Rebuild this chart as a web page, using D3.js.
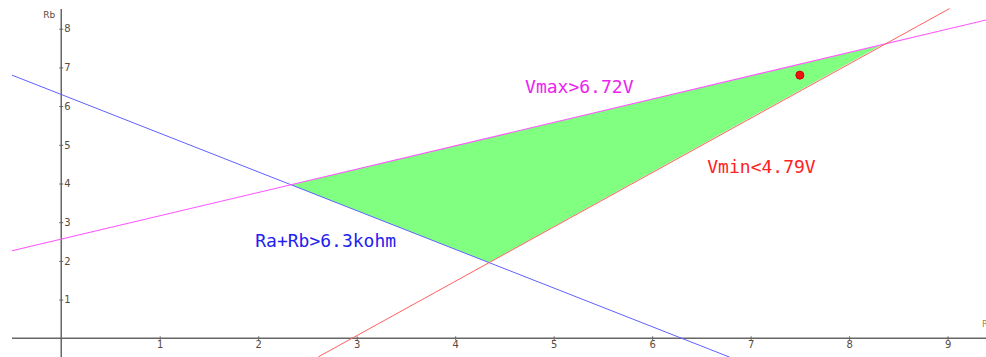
<!DOCTYPE html>
<html>
<head>
<meta charset="utf-8">
<script src="https://cdn.jsdelivr.net/npm/d3@7"></script>
<style>
    body { margin: 0; background: #fff; }
    #chart { width: 986px; height: 357px; }
    .tick text { font-family: "DejaVu Sans", sans-serif; font-size: 10px; fill: #5a4a3a; }
    .lbl { font-family: "DejaVu Sans Mono", monospace; font-size: 18px; }
</style>
</head>
<body>
<div id="chart"></div>
<script>
// tick values
const xTicks = [1, 2, 3, 4, 5, 6, 7, 8, 9];
const yTicks = [1, 2, 3, 4, 5, 6, 7, 8];

// constraint lines, endpoints (Ra, Rb)
const sumLine = [[-0.5, 6.8], [6.8, -0.5]];
const vmaxLine = [[-0.5, 2.26], [9.4, 8.23]];
const vminLine = [[2.61, -0.48], [9.02, 8.52]];

// feasible region corners
const region = [[2.33, 3.97], [4.34, 1.96], [8.33, 7.58]];

// chosen point
const chosen = [[7.5, 6.8]];

const labels = ["Vmax>6.72V", "Vmin<4.79V", "Ra+Rb>6.3kohm"];

/*
SVG CANVAS
*/
const width = 986;
const height = 357;

const svg = d3.select("#chart")
    .append("svg")
    .attr("width", width)
    .attr("height", height);

/*
SCALES
*/
const xScale = d3.scaleLinear()
    .domain([-0.5, 9.39])
    .range([12, 986]);

const yScale = d3.scaleLinear()
    .domain([0, 8])
    .range([338.3, 28.7]);

const line = d3.line()
    .x(d => xScale(d[0]))
    .y(d => yScale(d[1]));

/*
REGION
*/
svg.append("path")
    .datum(region)
    .attr("d", d => line(d) + "Z")
    .attr("fill", "#80ff80")
    .attr("stroke", "none");

/*
AXES
*/
const xAxis = svg.append("g")
    .attr("transform", `translate(0,${yScale(0)})`)
    .call(d3.axisBottom(xScale).tickValues(xTicks).tickSize(2).tickFormat(d3.format("d")));

xAxis.select(".domain")
    .attr("d", `M12,0H986`)
    .attr("stroke", "#666")
    .attr("stroke-width", 1.5);
xAxis.selectAll(".tick line").attr("y1", -2).attr("stroke", "#666");
xAxis.selectAll(".tick text").attr("dy", "0.55em").attr("y", 4);

const yAxis = svg.append("g")
    .attr("transform", `translate(${xScale(0)},0)`)
    .call(d3.axisRight(yScale).tickValues(yTicks).tickSize(2).tickFormat(d3.format("d")));

yAxis.select(".domain")
    .attr("d", `M0,9V357`)
    .attr("stroke", "#666")
    .attr("stroke-width", 1.5);
yAxis.selectAll(".tick line").attr("x1", -2).attr("stroke", "#666");
yAxis.selectAll(".tick text").attr("x", 3);

svg.append("text")
    .attr("x", xScale(0) - 6)
    .attr("y", 18)
    .attr("text-anchor", "end")
    .style("font-family", "DejaVu Sans, sans-serif")
    .style("font-size", "9px")
    .attr("fill", "#5a4a3a")
    .text("Rb");

svg.append("text")
    .attr("x", 982)
    .attr("y", 327)
    .style("font-family", "DejaVu Sans, sans-serif")
    .style("font-size", "9px")
    .attr("fill", "#b08040")
    .text("Ra");

/*
LINES
*/
svg.append("path")
    .datum(sumLine)
    .attr("d", line)
    .attr("fill", "none")
    .attr("stroke", "#6060ff")
    .attr("stroke-width", 1);

svg.append("path")
    .datum(vmaxLine)
    .attr("d", line)
    .attr("fill", "none")
    .attr("stroke", "#ff55ff")
    .attr("stroke-width", 1.1);

svg.append("path")
    .datum(vminLine)
    .attr("d", line)
    .attr("fill", "none")
    .attr("stroke", "#ff6060")
    .attr("stroke-width", 1);

/*
POINT
*/
svg.selectAll("circle.pt")
    .data(chosen)
    .enter()
    .append("circle")
    .attr("class", "pt")
    .attr("cx", d => xScale(d[0]))
    .attr("cy", d => yScale(d[1]))
    .attr("r", 4)
    .attr("fill", "#ee1111")
    .attr("stroke", "#cc0000")
    .attr("stroke-width", 1);

/*
LABELS
*/
svg.append("text")
    .attr("class", "lbl")
    .attr("x", xScale(4.71))
    .attr("y", yScale(6.33))
    .attr("fill", "#ee22ee")
    .text(labels[0]);

svg.append("text")
    .attr("class", "lbl")
    .attr("x", xScale(6.56))
    .attr("y", yScale(4.26))
    .attr("fill", "#ff2222")
    .text(labels[1]);

svg.append("text")
    .attr("class", "lbl")
    .attr("x", xScale(1.97))
    .attr("y", yScale(2.37))
    .attr("fill", "#2222ee")
    .text(labels[2]);
</script>
</body>
</html>
